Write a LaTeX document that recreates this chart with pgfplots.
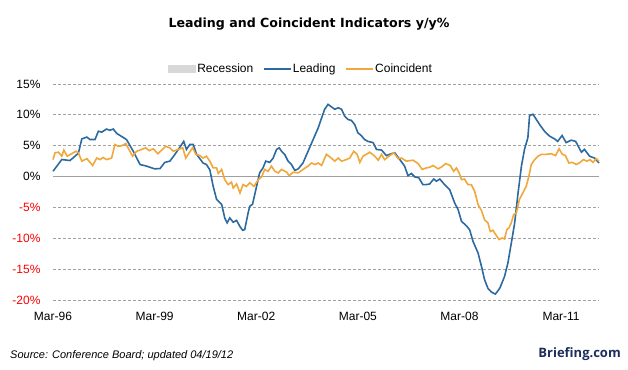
\documentclass[border=0pt]{standalone}
\usepackage{pgfplots}
\pgfplotsset{compat=1.18}
\usepackage{fontspec}
\setmainfont{Liberation Sans}
\newfontfamily\titlefont{DejaVu Sans}
\newfontfamily\logofont{Open Sans}
\definecolor{leadc}{HTML}{2C6AA0}
\definecolor{coinc}{HTML}{F0A83A}
\definecolor{gridc}{HTML}{A0A0A0}
\definecolor{recc}{HTML}{D8D8D8}
\definecolor{logoc}{HTML}{1C2F5C}
\begin{document}
\begin{tikzpicture}[x=1bp,y=1bp]
\path (0,0) rectangle (628,369);
\node[anchor=base, font=\titlefont\bfseries\fontsize{12.6bp}{14bp}\selectfont] at (309,342) {Leading and Coincident Indicators y/y\%};
\begin{axis}[
  at={(53bp,69bp)}, anchor=south west,
  scale only axis, width=546bp, height=216bp,
  xmin=0, xmax=16.12, ymin=-20, ymax=15,
  axis line style={draw=none},
  major tick length=0pt,
  xtick={0,3,6,9,12,15},
  xticklabels={Mar-96,Mar-99,Mar-02,Mar-05,Mar-08,Mar-11},
  ytick={-20,-15,-10,-5,0,5,10,15},
  yticklabels={\textcolor{red}{-20\%},\textcolor{red}{-15\%},\textcolor{red}{-10\%},\textcolor{red}{-5\%},0\%,5\%,10\%,15\%},
  tick label style={font=\fontsize{12bp}{14bp}\selectfont},
  xticklabel style={yshift=-9bp},
  yticklabel style={xshift=-9bp},
  ymajorgrids,
  grid style={gridc, line width=1bp, dash pattern=on 3bp off 2bp},
  clip=false,
  legend image code/.code={\draw[#1] (0bp,0bp) -- (27bp,0bp);},
  legend columns=3,
  legend style={at={(0.454,1.069)}, anchor=center, draw=none, fill=none,
    font=\fontsize{12bp}{14bp}\selectfont,
    nodes={inner sep=1.5bp},
    /tikz/every even column/.append style={column sep=8bp}},
]
\addplot[gridc, line width=1bp, forget plot] coordinates {(0,0) (16.12,0)};
\addlegendimage{legend image code/.code={\fill[recc] (0bp,-3.5bp) rectangle (27bp,3.5bp);}}
\addlegendentry{Recession}
\addplot[leadc, line width=1.6bp] coordinates {
(0,0.86) (0.26,2.76) (0.5,2.6) (0.65,3.3) (0.75,3.8) (0.85,6.1) (1.0,6.4) (1.09,6.0) (1.24,6.0) (1.34,7.35) (1.44,7.2) (1.58,7.7) (1.68,7.5) (1.78,7.7) (1.88,7.0) (2.17,6.0) (2.37,4.1) (2.57,1.95) (2.76,1.7) (3.0,1.25) (3.16,1.3) (3.3,2.3) (3.45,2.5) (3.6,3.6) (3.75,4.8) (3.86,5.7) (3.94,4.4) (4.04,5.2) (4.14,5.2) (4.24,3.6) (4.43,2.2) (4.53,1.95) (4.63,1.1) (4.73,-1.6) (4.83,-3.7) (4.98,-4.5) (5.07,-6.7) (5.14,-7.5) (5.22,-6.7) (5.32,-7.4) (5.42,-7.1) (5.52,-8.1) (5.6,-8.7) (5.66,-8.6) (5.76,-5.9) (5.81,-4.8) (5.89,-4.5) (6.01,-1.6) (6.1,0.6) (6.2,1.4) (6.28,2.5) (6.4,2.3) (6.5,3.0) (6.6,4.4) (6.68,4.65) (6.75,4.1) (6.84,3.6) (6.94,2.5) (7.04,1.95) (7.14,1.0) (7.24,1.25) (7.38,2.2) (7.53,4.1) (7.68,6.0) (7.83,7.9) (7.93,9.5) (8.02,10.9) (8.12,11.7) (8.22,11.3) (8.32,10.9) (8.42,11.15) (8.52,10.9) (8.61,9.8) (8.71,9.25) (8.81,9.1) (8.91,8.4) (9.0,7.1) (9.1,6.65) (9.2,6.0) (9.3,5.7) (9.45,5.5) (9.55,4.4) (9.7,4.3) (9.84,3.4) (9.99,3.7) (10.09,3.85) (10.24,2.75) (10.38,1.7) (10.48,0.15) (10.58,0.5) (10.68,-0.05) (10.8,-0.2) (10.92,-1.3) (11.02,-1.3) (11.12,-1.2) (11.24,-0.4) (11.32,-0.75) (11.42,-0.4) (11.56,-1.3) (11.71,-2.1) (11.86,-4.3) (11.96,-5.35) (12.06,-7.25) (12.2,-7.95) (12.3,-8.6) (12.4,-10.5) (12.55,-12.4) (12.65,-14.55) (12.74,-16.7) (12.84,-18.1) (12.94,-18.7) (13.06,-19.05) (13.19,-18.1) (13.33,-16.2) (13.43,-14.0) (13.53,-10.8) (13.63,-7.5) (13.73,-2.65) (13.83,1.7) (13.92,4.4) (14.02,6.3) (14.07,9.9) (14.17,10.1) (14.27,9.25) (14.37,8.4) (14.51,7.35) (14.66,6.55) (14.81,6.1) (14.9,5.7) (15.03,6.65) (15.15,5.5) (15.3,5.9) (15.43,5.7) (15.6,3.95) (15.69,4.4) (15.84,3.3) (15.99,3.0) (16.12,2.2)
};
\addlegendentry{Leading}
\addplot[coinc, line width=1.6bp] coordinates {
(0,2.76) (0.06,3.85) (0.16,3.95) (0.26,3.3) (0.32,4.3) (0.42,3.3) (0.55,3.7) (0.68,4.1) (0.75,3.85) (0.85,2.5) (1.0,2.9) (1.17,1.8) (1.29,3.0) (1.39,2.75) (1.48,3.1) (1.58,2.75) (1.73,3.0) (1.83,5.2) (1.93,4.9) (2.03,5.0) (2.15,5.35) (2.27,4.1) (2.35,3.3) (2.47,4.1) (2.62,4.4) (2.74,4.65) (2.84,4.2) (2.96,4.5) (3.1,3.7) (3.21,4.3) (3.33,4.9) (3.45,4.65) (3.55,4.1) (3.7,4.4) (3.83,4.65) (3.92,3.0) (4.02,3.85) (4.12,4.65) (4.22,3.6) (4.34,3.4) (4.43,3.0) (4.53,3.3) (4.63,2.5) (4.73,1.4) (4.83,1.4) (4.88,0.5) (4.98,1.15) (5.07,-0.5) (5.17,-1.3) (5.27,-0.9) (5.32,-1.85) (5.42,-1.2) (5.52,-2.65) (5.61,-1.3) (5.71,-1.6) (5.81,-1.0) (5.93,-1.6) (6.06,-0.5) (6.16,-0.05) (6.25,1.15) (6.35,0.85) (6.45,1.7) (6.55,0.85) (6.65,0.6) (6.75,1.15) (6.9,0.7) (6.97,0.15) (7.09,0.7) (7.24,0.6) (7.38,1.15) (7.53,1.7) (7.63,2.2) (7.73,1.95) (7.83,2.2) (7.93,1.8) (8.07,3.6) (8.17,3.2) (8.32,2.5) (8.42,3.0) (8.52,2.5) (8.66,2.75) (8.76,3.0) (8.88,4.1) (8.98,3.6) (9.06,2.3) (9.15,3.3) (9.25,3.6) (9.35,3.95) (9.5,3.3) (9.6,2.65) (9.7,3.6) (9.79,2.75) (9.92,3.3) (10.06,3.85) (10.19,2.9) (10.29,3.0) (10.43,2.5) (10.63,2.65) (10.78,2.1) (10.9,1.15) (11.02,1.4) (11.12,1.5) (11.22,1.8) (11.37,1.25) (11.47,1.55) (11.59,2.1) (11.73,1.8) (11.83,0.85) (11.91,1.4) (11.99,0.6) (12.06,-0.5) (12.15,-0.4) (12.25,-1.3) (12.35,-1.3) (12.45,-2.4) (12.55,-4.55) (12.65,-5.5) (12.74,-7.0) (12.84,-7.5) (12.91,-8.9) (12.99,-8.7) (13.07,-9.4) (13.17,-10.2) (13.26,-9.95) (13.33,-10.1) (13.4,-8.6) (13.46,-8.3) (13.53,-7.5) (13.6,-6.15) (13.68,-5.9) (13.77,-3.7) (13.87,-2.65) (13.97,-1.6) (14.05,0.05) (14.12,1.95) (14.22,2.75) (14.32,3.3) (14.42,3.6) (14.56,3.6) (14.71,3.7) (14.84,3.4) (14.94,4.5) (15.04,3.6) (15.13,3.4) (15.23,2.2) (15.33,2.3) (15.45,1.95) (15.56,2.3) (15.66,2.75) (15.76,2.5) (15.86,2.75) (15.94,2.3) (16.04,2.9) (16.12,2.5)
};
\addlegendentry{Coincident}
\end{axis}
\node[anchor=base west, font=\itshape\fontsize{11bp}{12bp}\selectfont, inner sep=0pt] at (10,11) {Source: Conference Board; updated 04/19/12};
\node[anchor=base east, font=\logofont\bfseries\fontsize{13bp}{15bp}\selectfont, text=logoc, inner sep=0pt] at (621,12) {Briefing.com};
\end{tikzpicture}
\end{document}
